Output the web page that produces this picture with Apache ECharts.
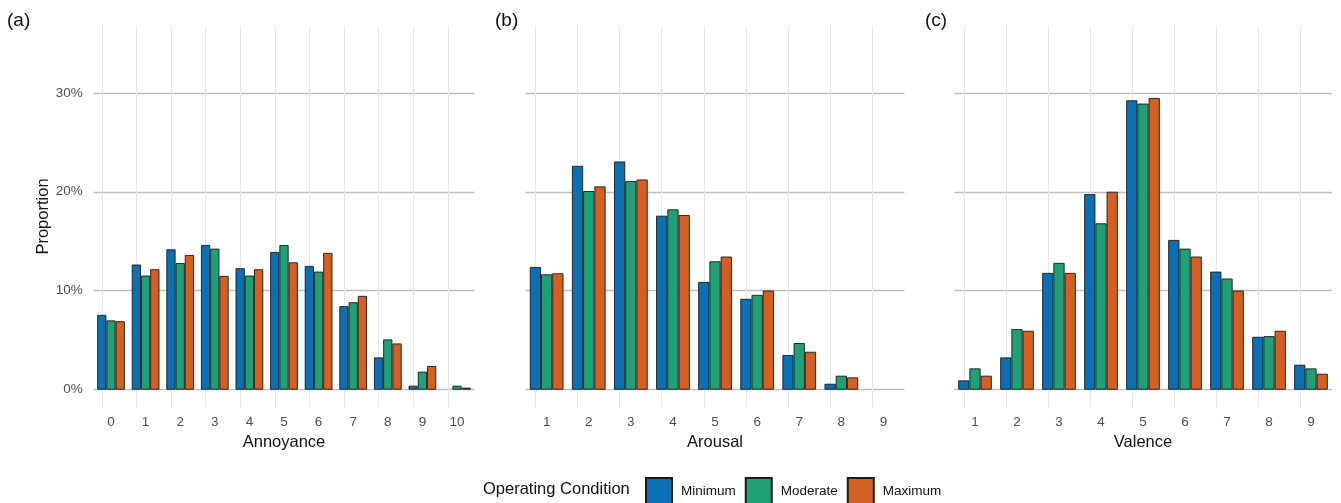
<!DOCTYPE html>
<html>
<head>
<meta charset="utf-8">
<script src="https://cdn.jsdelivr.net/npm/echarts@6/dist/echarts.min.js"></script>
<style>
  html, body { margin: 0; padding: 0; background: #fff; }
  #main { width: 1341px; height: 503px; }
</style>
</head>
<body>
<div id="main"></div>
<script>
// values in percent
const conditions = ["Minimum", "Moderate", "Maximum"];

const annoyanceCats = ["0", "1", "2", "3", "4", "5", "6", "7", "8", "9", "10"];
const annoyanceMin = [7.56, 12.64, 14.18, 14.62, 12.27, 13.92, 12.5, 8.44, 3.26, 0.4, null];
const annoyanceMod = [7.0, 11.53, 12.8, 14.25, 11.53, 14.62, 11.93, 8.84, 5.08, 1.82, 0.4];
const annoyanceMax = [6.92, 12.17, 13.61, 11.5, 12.17, 12.87, 13.82, 9.48, 4.67, 2.39, 0.2];

const arousalCats = ["1", "2", "3", "4", "5", "6", "7", "8", "9"];
const arousalMin = [12.4, 22.62, 23.06, 17.58, 10.89, 9.18, 3.5, 0.6, null];
const arousalMod = [11.66, 20.07, 21.08, 18.22, 12.97, 9.58, 4.71, 1.41, null];
const arousalMax = [11.76, 20.54, 21.24, 17.65, 13.45, 10.02, 3.83, 1.24, null];

const valenceCats = ["1", "2", "3", "4", "5", "6", "7", "8", "9"];
const valenceMin = [0.94, 3.26, 11.8, 19.76, 29.24, 15.13, 11.93, 5.34, 2.52];
const valenceMod = [2.15, 6.12, 12.81, 16.81, 28.91, 14.25, 11.23, 5.41, 2.15];
const valenceMax = [1.41, 5.95, 11.8, 20.0, 29.48, 13.45, 10.02, 5.95, 1.61];

const colors = ["#0a6fb3", "#1fa077", "#d55f22"];
const font = "Liberation Sans, Arial, Helvetica, sans-serif";

const panels = [
  { label: "(a)", name: "Annoyance", cats: annoyanceCats, data: [annoyanceMin, annoyanceMod, annoyanceMax], left: 93.7, width: 380.6, labelX: 2 },
  { label: "(b)", name: "Arousal", cats: arousalCats, data: [arousalMin, arousalMod, arousalMax], left: 525.6, width: 378.9, labelX: 490 },
  { label: "(c)", name: "Valence", cats: valenceCats, data: [valenceMin, valenceMod, valenceMax], left: 954, width: 378, labelX: 920 }
];

const myChart = echarts.init(document.getElementById("main"), null, { renderer: "canvas" });

let grids = [], xAxes = [], yAxes = [], series = [], titles = [];

panels.forEach((p, gi) => {
  grids.push({ left: p.left, width: p.width, top: 26, bottom: 96, containLabel: false });

  xAxes.push({
    type: "category",
    gridIndex: gi,
    data: p.cats,
    axisLine: { show: false, onZero: false },
    axisTick: { show: false },
    splitLine: { show: false },
    axisLabel: { color: "#4d4d4d", fontSize: 13.5, fontFamily: font, margin: 8 },
    name: p.name,
    nameLocation: "middle",
    nameGap: 25,
    nameTextStyle: { color: "#111", fontSize: 16.5, fontFamily: font }
  });

  yAxes.push({
    type: "value",
    gridIndex: gi,
    min: -1.75,
    max: 36.75,
    splitNumber: 5,
    axisLine: { show: false },
    axisTick: { show: false },
    axisLabel: {
      show: gi === 0,
      color: "#4d4d4d",
      fontSize: 13.5,
      fontFamily: font,
      margin: 11,
      showMinLabel: false,
      showMaxLabel: false,
      formatter: v => Math.round(v) + "%"
    },
    splitLine: {
      show: true,
      showMinLine: false,
      showMaxLine: false,
      lineStyle: { color: "#bebebe", width: 1.3 }
    },
    name: gi === 0 ? "Proportion" : "",
    nameLocation: "middle",
    nameGap: 42,
    nameTextStyle: { color: "#111", fontSize: 16.5, fontFamily: font }
  });

  p.data.forEach((vals, si) => {
    const s = {
      type: "bar",
      name: conditions[si],
      xAxisIndex: gi,
      yAxisIndex: gi,
      data: vals,
      barGap: "0%",
      barCategoryGap: "20%",
      itemStyle: { color: colors[si], borderColor: "#1a1a1a", borderWidth: 0.9 },
      emphasis: { disabled: true },
      z: 2
    };
    // light vertical grid lines at category centres, behind the bars
    if (si === 0) {
      s.markLine = {
        silent: true,
        symbol: "none",
        z: 1,
        label: { show: false },
        lineStyle: { color: "#e6e6e6", width: 1, type: "solid" },
        data: p.cats.map(c => ({ xAxis: c }))
      };
    }
    series.push(s);
  });

  titles.push({
    text: p.label,
    left: p.labelX,
    top: 6,
    textStyle: { fontSize: 19, fontWeight: "normal", color: "#111", fontFamily: font }
  });
});

titles.push({
  text: "Operating Condition",
  left: 478,
  top: 476,
  textStyle: { fontSize: 16.5, fontWeight: "normal", color: "#111", fontFamily: font }
});

const option = {
  backgroundColor: "#fff",
  animation: false,
  title: titles,
  legend: {
    data: conditions,
    left: 640,
    top: 472,
    icon: "rect",
    itemWidth: 26,
    itemHeight: 26,
    itemGap: 9,
    selectedMode: false,
    textStyle: { fontSize: 13.5, color: "#111", fontFamily: font, padding: [0, 0, 0, 4] }
  },
  grid: grids,
  xAxis: xAxes,
  yAxis: yAxes,
  series: series
};

myChart.setOption(option);
window.addEventListener("resize", () => {
  myChart.resize();
});
</script>
</body>
</html>
